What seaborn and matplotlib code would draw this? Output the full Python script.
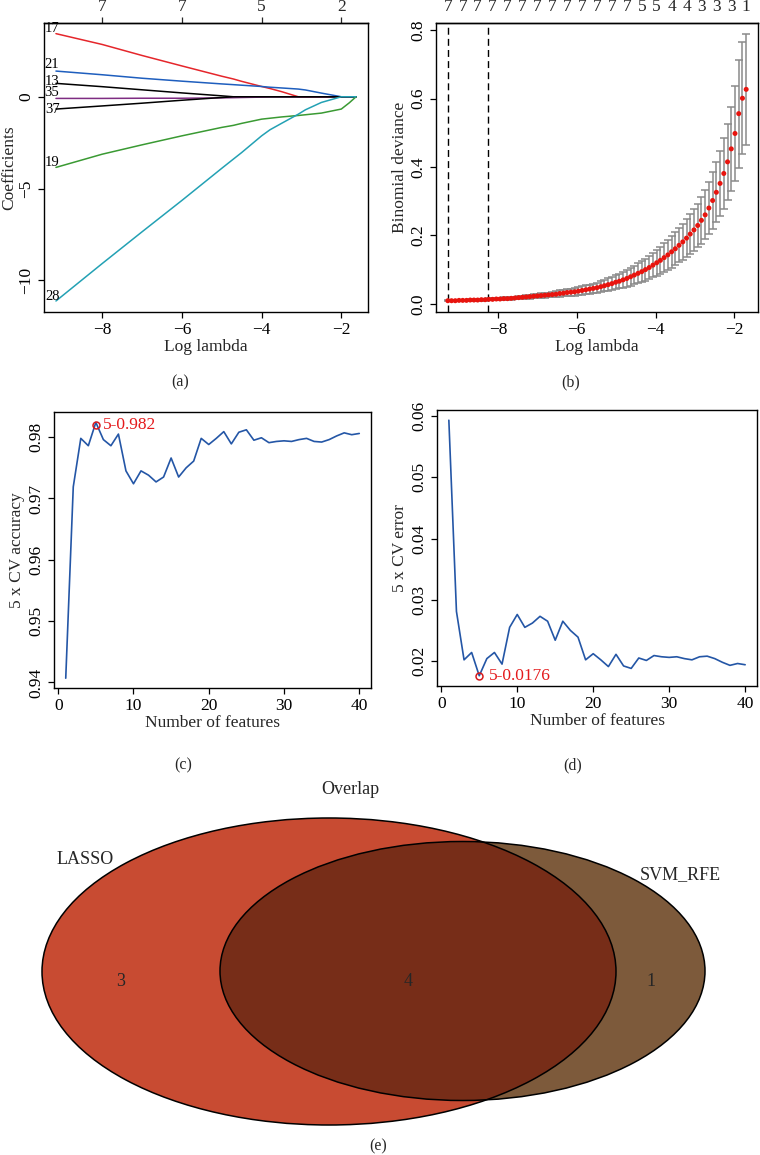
import numpy as np
import pandas as pd
import matplotlib
matplotlib.use("Agg")
import matplotlib.pyplot as plt
from matplotlib.patches import Ellipse
import seaborn as sns

# ---------------- data ----------------
# (a) LASSO coefficient paths
path_loglambda = [-9.16, -8, -7, -6, -5, -4.71, -4.5, -4, -3.79, -3.5, -3.08, -2.9, -2.5, -2, -1.8, -1.63]
path_vars = ["17", "21", "13", "35", "37", "19", "28"]
coef_17 = [3.44, 2.85, 2.25, 1.68, 1.12, 0.97, 0.84, 0.56, 0.45, 0.28, 0, 0, 0, 0, 0, 0]
coef_21 = [1.40, 1.20, 1.01, 0.85, 0.70, 0.66, 0.63, 0.56, 0.52, 0.48, 0.42, 0.37, 0.20, 0, 0, 0]
coef_13 = [0.73, 0.55, 0.38, 0.21, 0.05, 0, 0, 0, 0, 0, 0, 0, 0, 0, 0, 0]
coef_35 = [-0.09, -0.09, -0.08, -0.08, -0.06, -0.05, -0.04, -0.02, 0, 0, 0, 0, 0, 0, 0, 0]
coef_37 = [-0.67, -0.50, -0.35, -0.19, -0.04, 0, 0, 0, 0, 0, 0, 0, 0, 0, 0, 0]
coef_19 = [-3.85, -3.13, -2.62, -2.13, -1.67, -1.56, -1.45, -1.22, -1.17, -1.10, -1.02, -0.98, -0.89, -0.67, -0.33, 0]
coef_28 = [-11.13, -9.09, -7.36, -5.65, -3.90, -3.40, -3.04, -2.13, -1.80, -1.45, -0.95, -0.71, -0.31, 0, 0, 0]
path_colors = ["#E5262B", "#1E5EBE", "#000000", "#7E2C82", "#000000", "#3A9A33", "#23A1B4"]
top_a_ticks = [-8, -6, -4, -2]
top_a_labels = ["7", "7", "5", "2"]

# (b) cross-validated binomial deviance
cv_loglambda = np.linspace(-9.27, -1.70, 81)
cv_mean = [0.009, 0.009, 0.009, 0.010, 0.010, 0.010, 0.011, 0.011, 0.011, 0.012,
           0.012, 0.013, 0.013, 0.014, 0.014, 0.015, 0.015, 0.016, 0.017, 0.018,
           0.019, 0.020, 0.021, 0.022, 0.023, 0.024, 0.025, 0.026, 0.027, 0.028,
           0.030, 0.031, 0.033, 0.034, 0.035, 0.037, 0.039, 0.041, 0.043, 0.045,
           0.047, 0.050, 0.053, 0.056, 0.059, 0.063, 0.066, 0.070, 0.074, 0.079,
           0.084, 0.089, 0.094, 0.100, 0.106, 0.113, 0.120, 0.127, 0.135, 0.143,
           0.152, 0.161, 0.171, 0.181, 0.192, 0.204, 0.216, 0.229, 0.244, 0.260,
           0.280, 0.302, 0.326, 0.352, 0.381, 0.415, 0.453, 0.498, 0.556, 0.601,
           0.627]
cv_sd = [0.002, 0.002, 0.002, 0.002, 0.002, 0.002, 0.002, 0.002, 0.002, 0.003,
         0.003, 0.003, 0.003, 0.003, 0.003, 0.004, 0.004, 0.004, 0.004, 0.005,
         0.005, 0.005, 0.006, 0.006, 0.006, 0.007, 0.007, 0.007, 0.008, 0.008,
         0.009, 0.009, 0.010, 0.010, 0.011, 0.011, 0.012, 0.013, 0.013, 0.014,
         0.015, 0.016, 0.017, 0.018, 0.019, 0.020, 0.021, 0.023, 0.024, 0.026,
         0.027, 0.029, 0.030, 0.032, 0.034, 0.036, 0.038, 0.040, 0.042, 0.044,
         0.046, 0.048, 0.050, 0.052, 0.055, 0.058, 0.061, 0.064, 0.068, 0.072,
         0.077, 0.082, 0.088, 0.095, 0.103, 0.112, 0.122, 0.139, 0.158, 0.164,
         0.163]
lambda_min = -9.27
lambda_1se = -8.25
top_b_labels = ["7", "7", "7", "7", "7", "7", "7", "7", "7", "7", "7", "7", "7",
                "5", "5", "4", "4", "3", "3", "3", "1"]

# (c)/(d) SVM-RFE
n_features = list(range(1, 41))
cv_accuracy = [0.9407, 0.9719, 0.9798, 0.9786, 0.9824, 0.9796, 0.9786, 0.9805, 0.9745, 0.9724,
               0.9745, 0.9738, 0.9727, 0.9735, 0.9766, 0.9735, 0.9750, 0.9761, 0.9798, 0.9788,
               0.9798, 0.9809, 0.9789, 0.9808, 0.9812, 0.9795, 0.9799, 0.9791, 0.9793, 0.9794,
               0.9793, 0.9796, 0.9798, 0.9793, 0.9792, 0.9796, 0.9802, 0.9807, 0.9804, 0.9806]
cv_error = [0.0593, 0.0281, 0.0202, 0.0214, 0.0176, 0.0204, 0.0214, 0.0195, 0.0255, 0.0276,
            0.0255, 0.0262, 0.0273, 0.0265, 0.0234, 0.0265, 0.0250, 0.0239, 0.0202, 0.0212,
            0.0202, 0.0191, 0.0211, 0.0192, 0.0188, 0.0205, 0.0201, 0.0209, 0.0207, 0.0206,
            0.0207, 0.0204, 0.0202, 0.0207, 0.0208, 0.0204, 0.0198, 0.0193, 0.0196, 0.0194]
best_n = 5
best_acc = 0.982
best_err = 0.0176

# (e) Venn
venn_sets = ["LASSO", "SVM_RFE"]
venn_counts = [3, 4, 1]  # LASSO only, overlap, SVM_RFE only
venn_colors = ["#C84B32", "#772D18", "#7D5A3B"]

# ---------------- style ----------------
sns.set_theme(style="ticks")
plt.rcParams["font.family"] = ["Liberation Serif", "DejaVu Serif"]
plt.rcParams["axes.linewidth"] = 1.0
plt.rcParams["axes.edgecolor"] = "black"
FS = 12.5

fig = plt.figure(figsize=(7.6, 11.55), dpi=100)
W, H = 760.0, 1155.0


def add_ax(left, top, right, bottom):
    return fig.add_axes([left / W, 1 - bottom / H, (right - left) / W, (bottom - top) / H])


def style_ax(ax):
    for s in ax.spines.values():
        s.set_visible(True)
        s.set_color("black")
        s.set_linewidth(1.0)
    ax.tick_params(axis="both", direction="out", length=4, width=0.9, colors="black",
                   labelsize=FS, pad=3)
    ax.tick_params(axis="y", labelrotation=90)
    for lab in ax.get_yticklabels():
        lab.set_va("center")
    ax.grid(False)


# ---------------- (a) ----------------
ax = add_ax(44, 23, 368, 312)
rows = []
coefs = [coef_17, coef_21, coef_13, coef_35, coef_37, coef_19, coef_28]
for v, c in zip(path_vars, coefs):
    for x, y in zip(path_loglambda, c):
        rows.append({"loglambda": x, "coef": y, "var": v})
dfa = pd.DataFrame(rows)
sns.lineplot(data=dfa, x="loglambda", y="coef", hue="var", palette=dict(zip(path_vars, path_colors)),
             estimator=None, sort=False, legend=False, linewidth=1.1, ax=ax)
label_dy = {"17": 3.5, "21": 4.5, "13": 1.5, "35": 4.5, "37": 0.0, "19": 3.5, "28": 3.0}
for v, c in zip(path_vars, coefs):
    ax.annotate(v, (path_loglambda[0], c[0]), xytext=(2.5, label_dy[v]), textcoords="offset points",
                ha="right", va="center", fontsize=10.5, color="black")
ax.set_xlim(-9.46, -1.33)
ax.set_ylim(-11.73, 4.02)
ax.set_xticks([-8, -6, -4, -2])
ax.set_yticks([-10, -5, 0])
ax.set_xlabel("Log lambda", fontsize=FS, labelpad=1)
ax.set_ylabel("Coefficients", fontsize=FS, labelpad=1)
style_ax(ax)
axt = ax.secondary_xaxis("top")
axt.set_xticks(top_a_ticks)
axt.set_xticklabels(top_a_labels)
axt.tick_params(direction="out", length=4, width=0.9, labelsize=FS, pad=2)

# ---------------- (b) ----------------
ax = add_ax(436, 23, 758, 312)
ax.errorbar(cv_loglambda, cv_mean, yerr=cv_sd, fmt="none", ecolor="#8a8a8a",
            elinewidth=1.1, capsize=3, capthick=1.1, zorder=2)
sns.scatterplot(x=cv_loglambda, y=cv_mean, color="#E8140E", s=13, edgecolor="none",
                zorder=3, ax=ax)
ax.axvline(lambda_min, color="black", ls=(0, (5, 3)), lw=1.0)
ax.axvline(lambda_1se, color="black", ls=(0, (5, 3)), lw=1.0)
ax.set_xlim(-9.57, -1.40)
ax.set_ylim(-0.024, 0.821)
ax.set_xticks([-8, -6, -4, -2])
ax.set_yticks([0.0, 0.2, 0.4, 0.6, 0.8])
ax.set_yticklabels(["0.0", "0.2", "0.4", "0.6", "0.8"])
ax.set_xlabel("Log lambda", fontsize=FS, labelpad=1)
ax.set_ylabel("Binomial deviance", fontsize=FS, labelpad=2)
style_ax(ax)
axt = ax.secondary_xaxis("top")
axt.set_xticks(cv_loglambda[::4])
axt.set_xticklabels(top_b_labels)
axt.tick_params(length=0, labelsize=FS, pad=6)

# ---------------- (c) ----------------
ax = add_ax(54, 412, 371, 688)
sns.lineplot(x=n_features, y=cv_accuracy, color="#2456A6", linewidth=1.2, ax=ax)
ax.plot([best_n], [best_acc], marker="o", ms=5, mfc="none", mec="#D7191C", mew=1.1)
ax.annotate(f"{best_n}-{best_acc}", (best_n, best_acc), xytext=(5, 0), textcoords="offset points",
            ha="left", va="center", color="#E41A1C", fontsize=FS)
ax.set_xlim(-0.56, 41.56)
ax.set_ylim(0.9391, 0.9841)
ax.set_xticks([0, 10, 20, 30, 40])
ax.set_yticks([0.94, 0.95, 0.96, 0.97, 0.98])
ax.set_yticklabels(["0.94", "0.95", "0.96", "0.97", "0.98"])
ax.set_xlabel("Number of features", fontsize=FS, labelpad=1)
ax.set_ylabel("5 x CV accuracy", fontsize=FS, labelpad=2)
style_ax(ax)

# ---------------- (d) ----------------
ax = add_ax(437, 410, 757, 686)
sns.lineplot(x=n_features, y=cv_error, color="#2456A6", linewidth=1.2, ax=ax)
ax.plot([best_n], [best_err], marker="o", ms=5, mfc="none", mec="#D7191C", mew=1.1)
ax.annotate(f"{best_n}-{best_err}", (best_n, best_err), xytext=(7, 0), textcoords="offset points",
            ha="left", va="center", color="#E41A1C", fontsize=FS)
ax.set_xlim(-0.56, 41.56)
ax.set_ylim(0.01593, 0.06097)
ax.set_xticks([0, 10, 20, 30, 40])
ax.set_yticks([0.02, 0.03, 0.04, 0.05, 0.06])
ax.set_yticklabels(["0.02", "0.03", "0.04", "0.05", "0.06"])
ax.set_xlabel("Number of features", fontsize=FS, labelpad=1)
ax.set_ylabel("5 x CV error", fontsize=FS, labelpad=2)
style_ax(ax)

# ---------------- (e) Venn ----------------
axv = fig.add_axes([0, 0, 1, 385 / H])
axv.set_xlim(0, 760)
axv.set_ylim(1155, 770)
axv.axis("off")
lasso_geom = dict(xy=(329, 971.5), width=574, height=307)
svm_geom = dict(xy=(462.5, 971), width=485, height=259)
axv.add_patch(Ellipse(**svm_geom, fc=venn_colors[2], ec="none"))
lasso_patch = Ellipse(**lasso_geom, fc=venn_colors[0], ec="none")
axv.add_patch(lasso_patch)
inter = Ellipse(**svm_geom, fc=venn_colors[1], ec="none")
axv.add_patch(inter)
inter.set_clip_path(lasso_patch)
axv.add_patch(Ellipse(**lasso_geom, fill=False, ec="black", lw=1.1))
axv.add_patch(Ellipse(**svm_geom, fill=False, ec="black", lw=1.1))
VFS = 13
axv.text(350, 789, "Overlap", ha="center", va="center", fontsize=VFS)
axv.text(85, 859, venn_sets[0], ha="center", va="center", fontsize=VFS)
axv.text(680, 875, venn_sets[1], ha="center", va="center", fontsize=VFS)
axv.text(121, 982, str(venn_counts[0]), ha="center", va="center", fontsize=VFS)
axv.text(408, 982, str(venn_counts[1]), ha="center", va="center", fontsize=VFS)
axv.text(651, 982, str(venn_counts[2]), ha="center", va="center", fontsize=VFS)

# panel labels
for lab, x, y in [("(a)", 180, 382), ("(b)", 571, 382), ("(c)", 183, 765),
                  ("(d)", 573, 765), ("(e)", 378, 1146)]:
    fig.text(x / W, 1 - y / H, lab, ha="center", va="center", fontsize=11.5)

fig.savefig("out.png", dpi=100, facecolor="white")
